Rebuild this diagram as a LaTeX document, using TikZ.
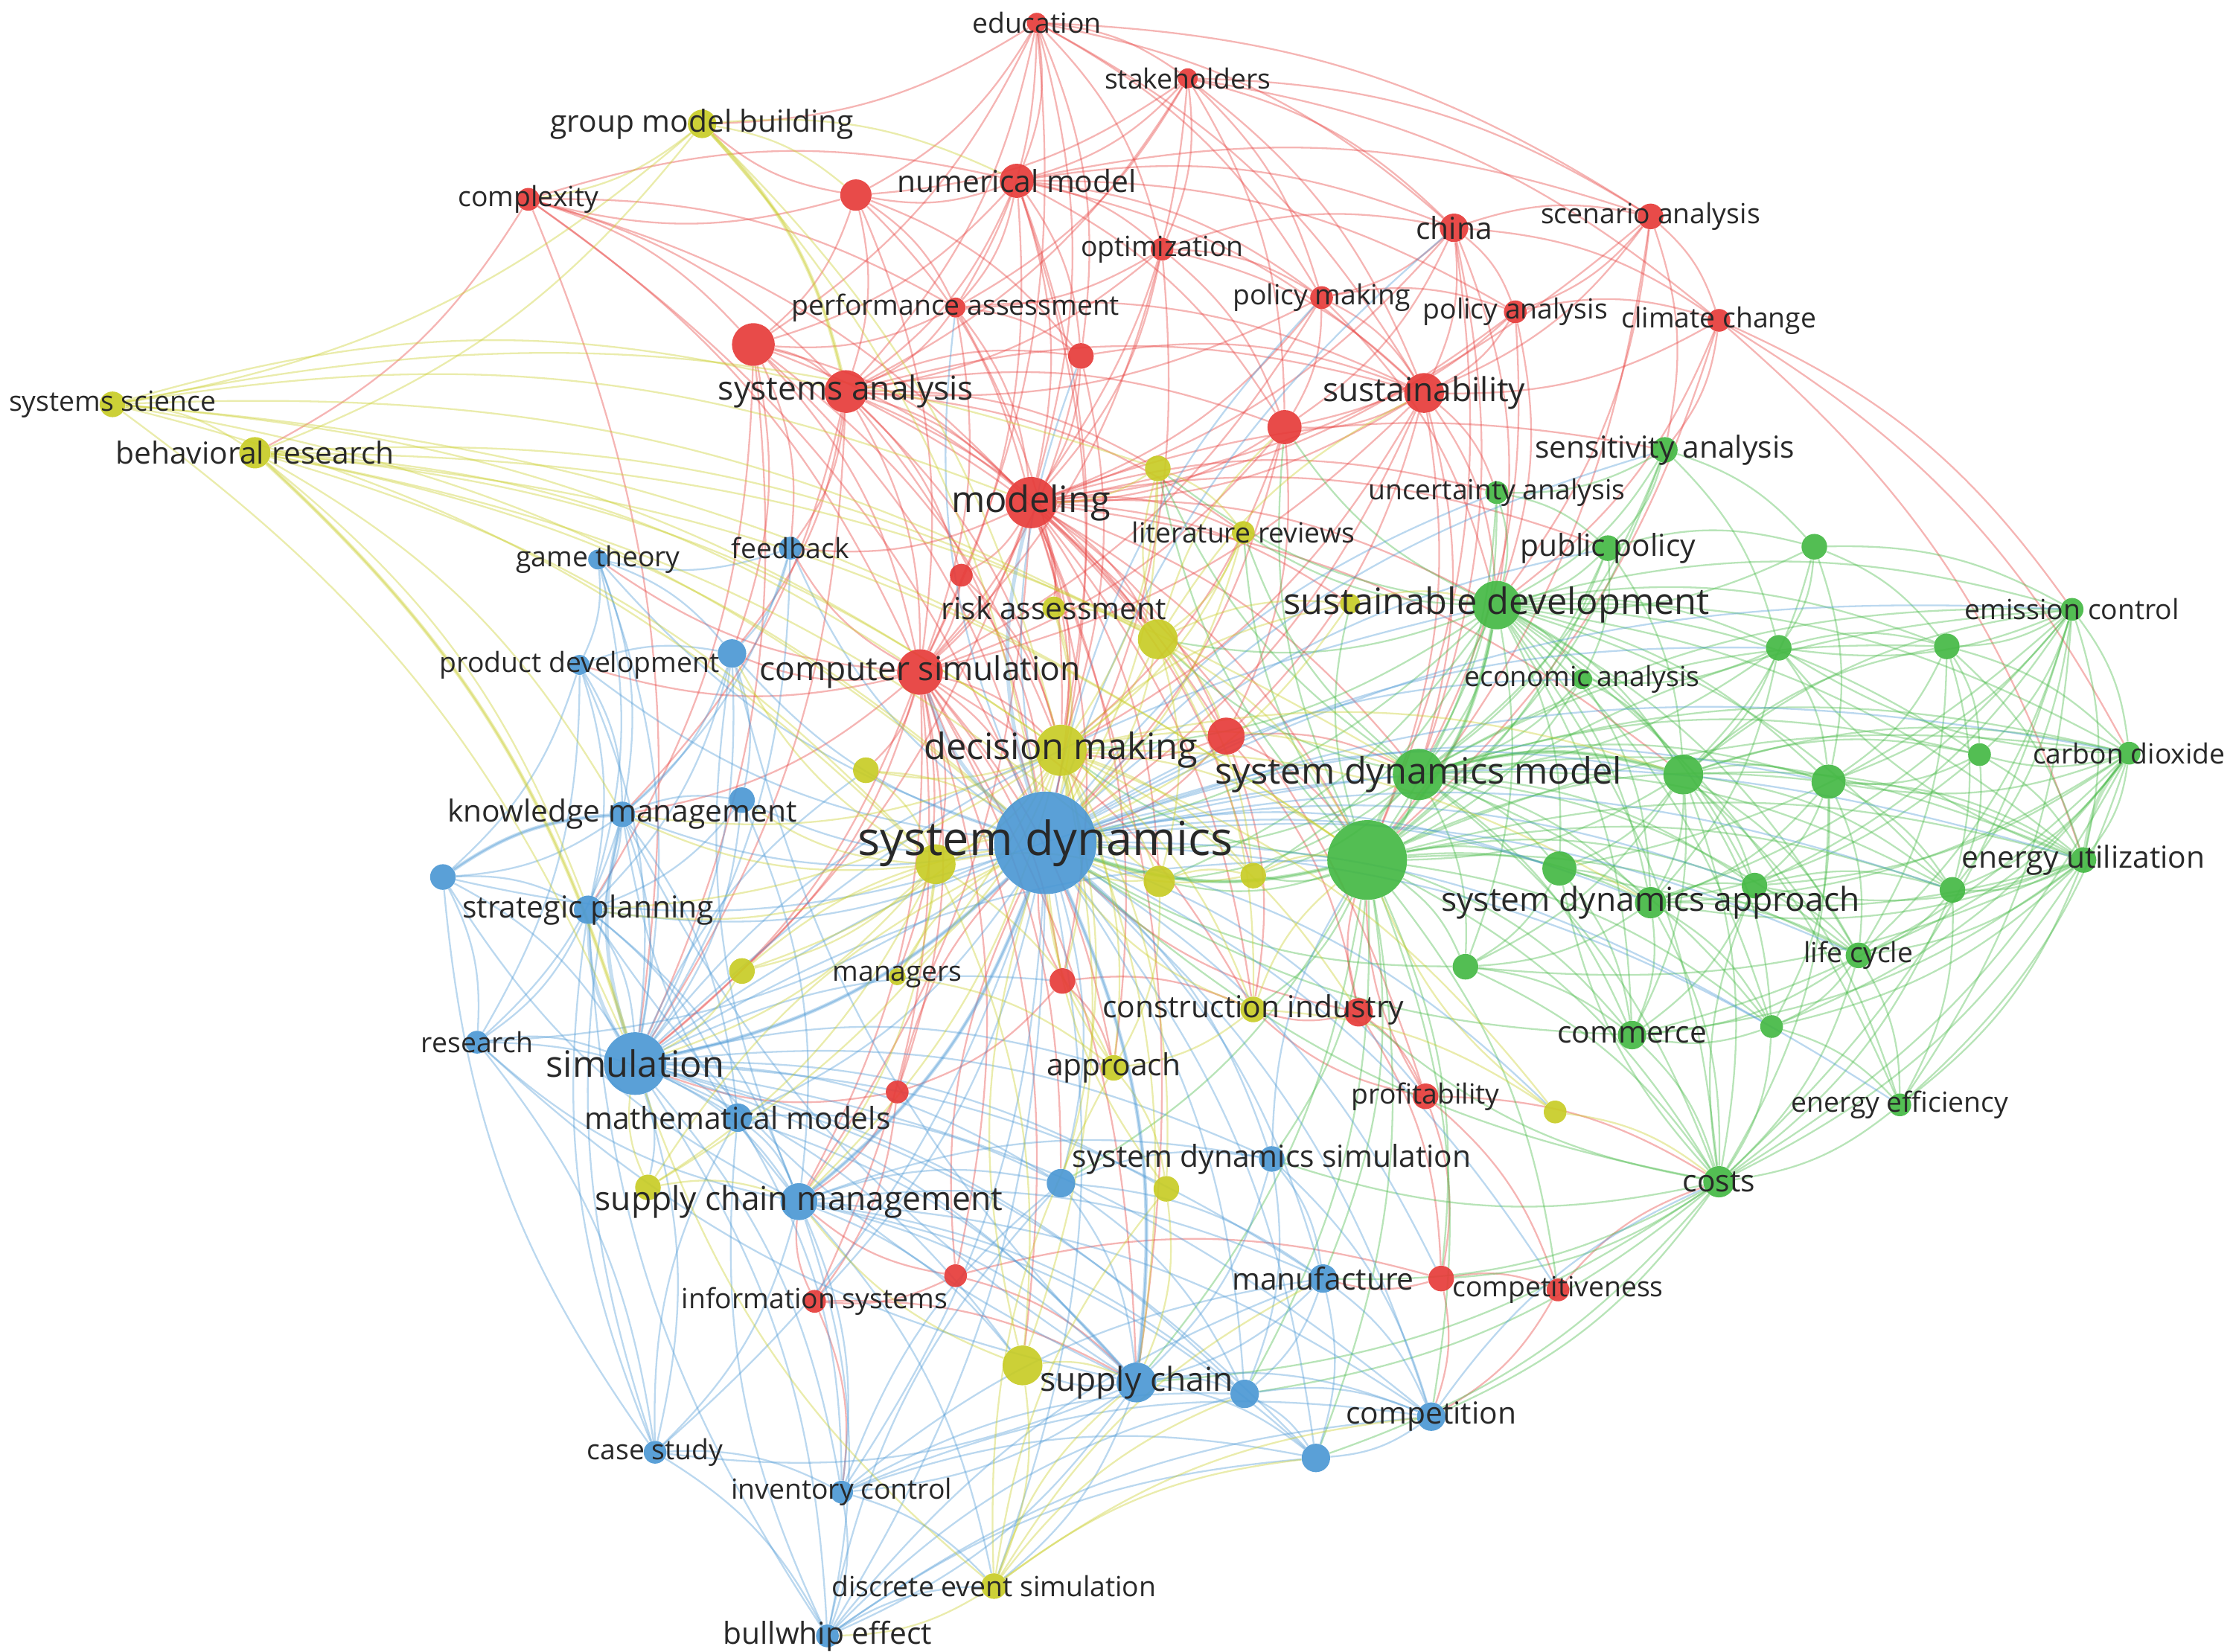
\documentclass[tikz,border=0pt]{standalone}
\usepackage{fontspec}
\setmainfont{Open Sans}
\pgfdeclarelayer{edges}
\pgfsetlayers{edges,main}
\definecolor{cR}{RGB}{230,60,58}
\definecolor{cG}{RGB}{68,184,68}
\definecolor{cB}{RGB}{76,152,212}
\definecolor{cY}{RGB}{200,204,38}
\definecolor{txt}{RGB}{40,40,40}

\begin{document}
\begin{tikzpicture}[x=1pt,y=-1pt,
  dot/.style={circle,inner sep=0pt,fill opacity=0.92},
  rdot/.style={dot,fill=cR}, gdot/.style={dot,fill=cG},
  bdot/.style={dot,fill=cB}, ydot/.style={dot,fill=cY},
  lab/.style={inner sep=0pt,text=txt},
  lS/.style={lab,font=\fontsize{19.5}{21}\selectfont},
  lM/.style={lab,font=\fontsize{21.3}{23}\selectfont},
  lL/.style={lab,font=\fontsize{23.2}{25}\selectfont},
  lXL/.style={lab,font=\fontsize{25.5}{27}\selectfont},
  lXXL/.style={lab,font=\fontsize{33}{35}\selectfont},
  edge/.style={line width=1.2pt,draw opacity=0.38,bend left=15},
  strong/.style={line width=2.6pt,draw opacity=0.32},
  eR/.style={edge,draw=cR}, eG/.style={edge,draw=cG},
  eB/.style={edge,draw=cB}, eY/.style={edge,draw=cY}]
  \useasboundingbox (0,0) rectangle (1568,1160);

  \node[rdot,minimum size=14pt] (educ) at (728,16) {};
  \node[rdot,minimum size=14pt] (stake) at (834,55) {};
  \node[rdot,minimum size=24pt] (nummod) at (714,127) {};
  \node[rdot,minimum size=22pt] (r1) at (601,137) {};
  \node[rdot,minimum size=16pt] (cplx) at (371,140) {};
  \node[rdot,minimum size=16pt] (optim) at (816,175) {};
  \node[rdot,minimum size=20pt] (china) at (1021,160) {};
  \node[rdot,minimum size=18pt] (scen) at (1159,152) {};
  \node[rdot,minimum size=14pt] (perf) at (671,216) {};
  \node[rdot,minimum size=16pt] (polmk) at (928,209) {};
  \node[rdot,minimum size=16pt] (polan) at (1064,219) {};
  \node[rdot,minimum size=16pt] (clim) at (1207,225) {};
  \node[rdot,minimum size=30pt] (r2) at (529,242) {};
  \node[rdot,minimum size=18pt] (r3) at (759,250) {};
  \node[rdot,minimum size=30pt] (sysan) at (594,275) {};
  \node[rdot,minimum size=28pt] (sust) at (1000,276) {};
  \node[rdot,minimum size=24pt] (r4) at (902,300) {};
  \node[rdot,minimum size=36pt] (mod) at (724,353) {};
  \node[rdot,minimum size=16pt] (r5) at (675,404) {};
  \node[rdot,minimum size=32pt] (compsim) at (646,472) {};
  \node[rdot,minimum size=26pt] (r6) at (861,517) {};
  \node[rdot,minimum size=18pt] (r7) at (746,689) {};
  \node[rdot,minimum size=20pt] (r8) at (954,711) {};
  \node[rdot,minimum size=16pt] (r9) at (630,767) {};
  \node[rdot,minimum size=18pt] (profit) at (1001,770) {};
  \node[rdot,minimum size=16pt] (r10) at (671,896) {};
  \node[rdot,minimum size=16pt] (infsys) at (572,914) {};
  \node[rdot,minimum size=18pt] (r11) at (1012,898) {};
  \node[rdot,minimum size=16pt] (compet) at (1094,906) {};

  \node[gdot,minimum size=18pt] (sens) at (1169,316) {};
  \node[gdot,minimum size=16pt] (unc) at (1051,346) {};
  \node[gdot,minimum size=18pt] (pubpol) at (1129,385) {};
  \node[gdot,minimum size=18pt] (g1) at (1274,384) {};
  \node[gdot,minimum size=34pt] (susdev) at (1051,425) {};
  \node[gdot,minimum size=16pt] (emis) at (1455,428) {};
  \node[gdot,minimum size=18pt] (g2) at (1249,455) {};
  \node[gdot,minimum size=18pt] (g3) at (1367,454) {};
  \node[gdot,minimum size=14pt] (econ) at (1111,477) {};
  \node[gdot,minimum size=16pt] (carb) at (1495,529) {};
  \node[gdot,minimum size=16pt] (g4) at (1390,530) {};
  \node[gdot,minimum size=36pt] (sdm) at (996,544) {};
  \node[gdot,minimum size=28pt] (g5) at (1182,544) {};
  \node[gdot,minimum size=24pt] (g6) at (1284,549) {};
  \node[gdot,minimum size=56pt] (g7) at (960,604) {};
  \node[gdot,minimum size=24pt] (g8) at (1095,610) {};
  \node[gdot,minimum size=18pt] (energy) at (1463,604) {};
  \node[gdot,minimum size=22pt] (sda) at (1159,634) {};
  \node[gdot,minimum size=18pt] (g9) at (1232,622) {};
  \node[gdot,minimum size=18pt] (g10) at (1371,625) {};
  \node[gdot,minimum size=18pt] (life) at (1305,671) {};
  \node[gdot,minimum size=18pt] (g11) at (1029,679) {};
  \node[gdot,minimum size=16pt] (g12) at (1244,721) {};
  \node[gdot,minimum size=20pt] (comm) at (1146,727) {};
  \node[gdot,minimum size=16pt] (effic) at (1334,776) {};
  \node[gdot,minimum size=22pt] (costs) at (1207,830) {};

  \node[bdot,minimum size=72pt] (sd) at (734,592) {};
  \node[bdot,minimum size=16pt] (feed) at (555,385) {};
  \node[bdot,minimum size=14pt] (game) at (420,393) {};
  \node[bdot,minimum size=14pt] (proddev) at (407,467) {};
  \node[bdot,minimum size=20pt] (b1) at (514,459) {};
  \node[bdot,minimum size=18pt] (km) at (437,572) {};
  \node[bdot,minimum size=18pt] (b2) at (521,562) {};
  \node[bdot,minimum size=18pt] (b3) at (311,616) {};
  \node[bdot,minimum size=20pt] (strat) at (413,639) {};
  \node[bdot,minimum size=16pt] (res) at (335,732) {};
  \node[bdot,minimum size=44pt] (sim) at (446,747) {};
  \node[bdot,minimum size=20pt] (mathm) at (518,785) {};
  \node[bdot,minimum size=26pt] (scm) at (561,844) {};
  \node[bdot,minimum size=20pt] (b4) at (745,831) {};
  \node[bdot,minimum size=18pt] (sdsim) at (893,814) {};
  \node[bdot,minimum size=20pt] (manuf) at (929,898) {};
  \node[bdot,minimum size=28pt] (sc) at (798,971) {};
  \node[bdot,minimum size=20pt] (b5) at (874,979) {};
  \node[bdot,minimum size=20pt] (compn) at (1005,995) {};
  \node[bdot,minimum size=20pt] (b6) at (924,1024) {};
  \node[bdot,minimum size=16pt] (case) at (460,1020) {};
  \node[bdot,minimum size=16pt] (inv) at (591,1048) {};
  \node[bdot,minimum size=16pt] (bull) at (581,1149) {};

  \node[ydot,minimum size=20pt] (gmb) at (493,87) {};
  \node[ydot,minimum size=18pt] (syssci) at (79,284) {};
  \node[ydot,minimum size=22pt] (behav) at (179,318) {};
  \node[ydot,minimum size=18pt] (y1) at (813,329) {};
  \node[ydot,minimum size=16pt] (litrev) at (873,374) {};
  \node[ydot,minimum size=16pt] (risk) at (740,427) {};
  \node[ydot,minimum size=14pt] (y2) at (948,424) {};
  \node[ydot,minimum size=28pt] (y3) at (813,449) {};
  \node[ydot,minimum size=36pt] (dm) at (745,527) {};
  \node[ydot,minimum size=18pt] (y4) at (608,541) {};
  \node[ydot,minimum size=28pt] (y5) at (657,607) {};
  \node[ydot,minimum size=22pt] (y6) at (814,619) {};
  \node[ydot,minimum size=18pt] (y7) at (880,615) {};
  \node[ydot,minimum size=18pt] (y8) at (521,682) {};
  \node[ydot,minimum size=12pt] (mgr) at (630,686) {};
  \node[ydot,minimum size=18pt] (constr) at (880,709) {};
  \node[ydot,minimum size=18pt] (appr) at (782,750) {};
  \node[ydot,minimum size=16pt] (y9) at (1092,781) {};
  \node[ydot,minimum size=18pt] (y10) at (455,834) {};
  \node[ydot,minimum size=18pt] (y11) at (819,835) {};
  \node[ydot,minimum size=28pt] (y12) at (718,959) {};
  \node[ydot,minimum size=18pt] (des) at (698,1114) {};

  \begin{pgfonlayer}{edges}
  \foreach \t in {stake,nummod,r1,sysan,mod,optim,china,r2,perf,polmk,sust,r3,compsim,gmb,scen} \draw[eR] (educ) to (\t);
  \foreach \t in {nummod,china,scen,optim,mod,sysan,perf,polmk,sust,r4,clim,r1} \draw[eR] (stake) to (\t);
  \foreach \t in {r1,optim,china,sysan,r2,mod,perf,polmk,sust,compsim,r3,scen,polan,r4,dm,sd} \draw[eR] (nummod) to (\t);
  \foreach \t in {sysan,r2,mod,perf,compsim,gmb,cplx,r3} \draw[eR] (r1) to (\t);
  \foreach \t in {r2,sysan,mod,compsim,nummod,behav,sim,sd,perf} \draw[eR] (cplx) to (\t);
  \foreach \t in {mod,sysan,sust,r4,polmk,china,compsim,perf,sd} \draw[eR] (optim) to (\t);
  \foreach \t in {scen,sust,polan,clim,polmk,r4,mod,sdm,susdev,g7} \draw[eR] (china) to (\t);
  \foreach \t in {clim,polan,sust,sens,susdev,g7,mod} \draw[eR] (scen) to (\t);
  \foreach \t in {mod,sysan,r2,compsim,r3,sust,dm} \draw[eR] (perf) to (\t);
  \foreach \t in {sust,mod,r4,polan,sysan,compsim,susdev} \draw[eR] (polmk) to (\t);
  \foreach \t in {sust,clim,r4,mod,susdev,sdm} \draw[eR] (polan) to (\t);
  \foreach \t in {sust,susdev,emis,sens,g7,carb,energy} \draw[eR] (clim) to (\t);
  \foreach \t in {sysan,mod,compsim,sim,sd,feed,b1,dm,y3,strat} \draw[eR] (r2) to (\t);
  \foreach \t in {mod,sust,compsim,dm} \draw[eR] (r3) to (\t);
  \foreach \t in {mod,compsim,r4,sust,sd,dm,sim,r5,feed,b1,km,y1,y3,r3,r6,litrev} \draw[eR] (sysan) to (\t);
  \foreach \t in {r4,mod,susdev,sdm,g7,dm,sd,compsim,r6,unc} \draw[eR] (sust) to (\t);
  \foreach \t in {mod,dm,sd,r6,compsim} \draw[eR] (r4) to (\t);
  \foreach \t in {compsim,r5,sd,dm,r6,sim,y3,risk,constr,r7,sdm,g7,litrev} \draw[eR] (mod) to (\t);
  \foreach \t in {susdev,y2,y6,y7,g5,appr,scm,sc,profit,sens,unc,pubpol,feed} \draw[eR] (mod) to (\t);
  \foreach \t in {compsim,sd,dm} \draw[eR] (r5) to (\t);
  \foreach \t in {sd,dm,sim,r7,r9,scm,km,y5,mgr,constr} \draw[eR] (compsim) to (\t);
  \foreach \t in {b1,feed,game,proddev,y4,y8,sc,infsys,r10,appr,y12,b4} \draw[eR] (compsim) to (\t);
  \foreach \t in {sd,dm,g7,sdm,constr,r8} \draw[eR] (r6) to (\t);
  \foreach \t in {sd,appr,r9,constr} \draw[eR] (r7) to (\t);
  \foreach \t in {constr,profit,g7,sd,r11} \draw[eR] (r8) to (\t);
  \foreach \t in {sd,scm,infsys,sim} \draw[eR] (r9) to (\t);
  \foreach \t in {r11,compet,constr,costs,g7} \draw[eR] (profit) to (\t);
  \foreach \t in {infsys,sc,scm,sd,r11} \draw[eR] (r10) to (\t);
  \foreach \t in {scm,sc,inv} \draw[eR] (infsys) to (\t);
  \foreach \t in {compet,manuf,compn} \draw[eR] (r11) to (\t);
  \foreach \t in {compn,costs} \draw[eR] (compet) to (\t);

  \foreach \t in {unc,pubpol,susdev,g1,sdm,g7,g2} \draw[eG] (sens) to (\t);
  \foreach \t in {susdev,pubpol,sdm,g7} \draw[eG] (unc) to (\t);
  \foreach \t in {susdev,g5,g1,econ,sdm,g7} \draw[eG] (pubpol) to (\t);
  \foreach \t in {susdev,g2,g3,g5,emis,g6} \draw[eG] (g1) to (\t);
  \foreach \t in {econ,g2,sdm,g5,g7,sda,g8,g6,energy,comm,costs,emis,sd,dm} \draw[eG] (susdev) to (\t);
  \foreach \t in {y3,y1,r4,g3,g4,g9,g10,g11,g12,life,carb,effic,y6,y7,litrev} \draw[eG] (susdev) to (\t);
  \foreach \t in {g3,carb,energy,g2,g6,g4,g10,life,g9,sda,g8,costs,effic} \draw[eG] (emis) to (\t);
  \foreach \t in {g5,g3,g6,sda,sdm,econ} \draw[eG] (g2) to (\t);
  \foreach \t in {g4,g6,energy,carb,life,g10} \draw[eG] (g3) to (\t);
  \foreach \t in {sdm,g5,g7,sda} \draw[eG] (econ) to (\t);
  \foreach \t in {g4,energy,g6,g10,life,effic,sda,g9,costs,g12,comm,g2} \draw[eG] (carb) to (\t);
  \foreach \t in {energy,g6,sda,g10} \draw[eG] (g4) to (\t);
  \foreach \t in {g7,g5,g8,sda,comm,sd,g11,costs} \draw[eG] (sdm) to (\t);
  \foreach \t in {y3,y1,y6,y7,g6,g9,energy,life,carb,emis,g10,g12,g3,g4,litrev} \draw[eG] (sdm) to (\t);
  \foreach \t in {g7,g6,g8,sda,g9,comm,life,costs,energy,carb,emis,g10,g3,g4,g12,g11,effic} \draw[eG] (g5) to (\t);
  \foreach \t in {sda,g9,g10,life,energy,g12,costs} \draw[eG] (g6) to (\t);
  \foreach \t in {sd,g8,sda,comm,g11,costs,dm,y6,y7,constr,sdsim,manuf,compn} \draw[eG] (g7) to (\t);
  \foreach \t in {y1,r4,litrev,y2,b4,sc,b5,b6,compet,r11,g6,g9,g12,life,energy,g10,carb,emis} \draw[eG] (g7) to (\t);
  \foreach \t in {sda,comm,g11} \draw[eG] (g8) to (\t);
  \foreach \t in {g10,life,g9,effic,costs,sda,g2,g8,g11,comm,g12} \draw[eG] (energy) to (\t);
  \foreach \t in {g9,life,comm,g12,costs,g11} \draw[eG] (sda) to (\t);
  \foreach \t in {life,g10,comm} \draw[eG] (g9) to (\t);
  \foreach \t in {life,effic,costs} \draw[eG] (g10) to (\t);
  \foreach \t in {effic,g12,costs,comm} \draw[eG] (life) to (\t);
  \foreach \t in {comm,costs,sd} \draw[eG] (g11) to (\t);
  \foreach \t in {costs,effic,comm} \draw[eG] (g12) to (\t);
  \foreach \t in {costs,sd} \draw[eG] (comm) to (\t);
  \foreach \t in {costs} \draw[eG] (effic) to (\t);
  \foreach \t in {compn,manuf,sd,g8,g9,sdsim,b5,b6,sc,r8,r11} \draw[eG] (costs) to (\t);

  \foreach \t in {sim,km,scm,sc,strat,b1,b2,feed,game,proddev,mathm,b4,sdsim,manuf,compn,b5,b6,case,inv,bull,res,b3} \draw[eB] (sd) to (\t);
  \foreach \t in {sda,g5,g8,g6,g9,life,energy,pubpol,unc,econ,sens,china,polmk,perf,r3,profit,infsys,compet,r11,des,y9,g2,emis,carb,effic,g12,g10} \draw[eB] (sd) to (\t);
  \foreach \t in {sim,game,b1,km} \draw[eB] (feed) to (\t);
  \foreach \t in {proddev,km,strat,sim,b1} \draw[eB] (game) to (\t);
  \foreach \t in {b1,km,strat,sim,res,b3} \draw[eB] (proddev) to (\t);
  \foreach \t in {km,b2,sim,strat} \draw[eB] (b1) to (\t);
  \foreach \t in {b2,strat,sim,b3,res,mathm} \draw[eB] (km) to (\t);
  \foreach \t in {strat,sim,scm} \draw[eB] (b2) to (\t);
  \foreach \t in {strat,res,sim,km} \draw[eB] (b3) to (\t);
  \foreach \t in {sim,res,mathm,scm} \draw[eB] (strat) to (\t);
  \foreach \t in {sim,mathm,case} \draw[eB] (res) to (\t);
  \foreach \t in {mathm,scm,case,inv,bull,sc,b4,sdsim,y10} \draw[eB] (sim) to (\t);
  \foreach \t in {dm,y4,y12,manuf,compn,b5,b6,g7,r7,appr,y11,sdm,susdev} \draw[eB] (sim) to (\t);
  \foreach \t in {scm,sc,inv,b4} \draw[eB] (mathm) to (\t);
  \foreach \t in {sc,inv,bull,case,b4,y12,des,b6,km,b1,res,sdsim,manuf,compn,b5,b3} \draw[eB] (scm) to (\t);
  \foreach \t in {sc,sdsim,manuf,b5} \draw[eB] (b4) to (\t);
  \foreach \t in {manuf,sc,b5,compn,g7} \draw[eB] (sdsim) to (\t);
  \foreach \t in {sc,b5,compn,b6} \draw[eB] (manuf) to (\t);
  \foreach \t in {b5,b6,compn,inv,bull,case,y12,des,km,strat,res,b1} \draw[eB] (sc) to (\t);
  \foreach \t in {compn,b6} \draw[eB] (b5) to (\t);
  \foreach \t in {b6,costs} \draw[eB] (compn) to (\t);
  \foreach \t in {inv,bull,strat,km,b3,mathm} \draw[eB] (case) to (\t);
  \foreach \t in {bull,des,b4,manuf,b5,compn,b6} \draw[eB] (inv) to (\t);
  \foreach \t in {des,b6,b4,manuf,compn,b5,mathm,strat} \draw[eB] (bull) to (\t);

  \foreach \t in {syssci,behav,sysan,r1,nummod,sd,dm,cplx} \draw[eY] (gmb) to (\t);
  \foreach \t in {behav,sd,sim,dm,sysan,y5,y3,g7,mod,y1} \draw[eY] (syssci) to (\t);
  \foreach \t in {sd,sim,dm,y5,strat,km,y3,compsim,g7,sdm,y6} \draw[eY] (behav) to (\t);
  \foreach \t in {mod,sd,dm,litrev} \draw[eY] (y1) to (\t);
  \foreach \t in {dm,sd,y3} \draw[eY] (litrev) to (\t);
  \foreach \t in {dm,sd,y3} \draw[eY] (risk) to (\t);
  \foreach \t in {susdev,sd} \draw[eY] (y2) to (\t);
  \foreach \t in {dm,sd,y6,g7,sust,y1,y2,y7,constr,r4,r6} \draw[eY] (y3) to (\t);
  \foreach \t in {sd,y5,y6,y7,y4,mgr,appr,constr,g7,sdm} \draw[eY] (dm) to (\t);
  \foreach \t in {y8,y10,y12,y11,y9,y2,r7,r8,g5,sda,b4,scm,sc,km,strat} \draw[eY] (dm) to (\t);
  \foreach \t in {sd,y5} \draw[eY] (y4) to (\t);
  \foreach \t in {sd,sim,y8,mgr,y6,y12,appr,km,strat,b2,b1,y10,scm} \draw[eY] (y5) to (\t);
  \foreach \t in {sd,y7,appr} \draw[eY] (y6) to (\t);
  \foreach \t in {sd,g7} \draw[eY] (y7) to (\t);
  \foreach \t in {sim,sd} \draw[eY] (y8) to (\t);
  \foreach \t in {sd,appr} \draw[eY] (mgr) to (\t);
  \foreach \t in {appr,sd,g7,y9} \draw[eY] (constr) to (\t);
  \foreach \t in {sd,y11} \draw[eY] (appr) to (\t);
  \foreach \t in {costs,g7} \draw[eY] (y9) to (\t);
  \foreach \t in {scm,sim,sd} \draw[eY] (y10) to (\t);
  \foreach \t in {sd,sc} \draw[eY] (y11) to (\t);
  \foreach \t in {sc,des,sd,scm} \draw[eY] (y12) to (\t);
  \foreach \t in {sim,sc,bull,b5,manuf,compn,b6,y11,appr} \draw[eY] (des) to (\t);

  \foreach \a/\b in {sd/sim,sd/scm,sd/sc,sim/km,sim/strat,b3/km,sd/compsim,sd/mod} \draw[eB,strong] (\a) to (\b);
  \foreach \a/\b in {g7/sd,g7/sdm,susdev/g7,sdm/g5,energy/carb} \draw[eG,strong] (\a) to (\b);
  \foreach \a/\b in {dm/sd,behav/sim,gmb/sysan} \draw[eY,strong] (\a) to (\b);
  \end{pgfonlayer}

  \node[lS] (educ-l) at (educ) {education};
  \node[lS] (stake-l) at (stake) {stakeholders};
  \node[lM] (nummod-l) at (nummod) {numerical model};
  \node[lS] (cplx-l) at (cplx) {complexity};
  \node[lS] (optim-l) at (optim) {optimization};
  \node[lM] (china-l) at (china) {china};
  \node[lS] (scen-l) at (scen) {scenario analysis};
  \node[lS] (perf-l) at (perf) {performance assessment};
  \node[lS] (polmk-l) at (polmk) {policy making};
  \node[lS] (polan-l) at (polan) {policy analysis};
  \node[lS] (clim-l) at (clim) {climate change};
  \node[lL] (sysan-l) at (sysan) {systems analysis};
  \node[lL] (sust-l) at (sust) {sustainability};
  \node[lXL] (mod-l) at (mod) {modeling};
  \node[lL] (compsim-l) at (compsim) {computer simulation};
  \node[lS] (profit-l) at (profit) {profitability};
  \node[lS] (infsys-l) at (infsys) {information systems};
  \node[lS] (compet-l) at (compet) {competitiveness};

  \node[lM] (sens-l) at (sens) {sensitivity analysis};
  \node[lS] (unc-l) at (unc) {uncertainty analysis};
  \node[lM] (pubpol-l) at (pubpol) {public policy};
  \node[lXL] (susdev-l) at (susdev) {sustainable development};
  \node[lS] (emis-l) at (emis) {emission control};
  \node[lS] (econ-l) at (econ) {economic analysis};
  \node[lS] (carb-l) at (carb) {carbon dioxide};
  \node[lXL] (sdm-l) at (sdm) {system dynamics model};
  \node[lM] (energy-l) at (energy) {energy utilization};
  \node[lL] (sda-l) at (sda) {system dynamics approach};
  \node[lS] (life-l) at (life) {life cycle};
  \node[lM] (comm-l) at (comm) {commerce};
  \node[lS] (effic-l) at (effic) {energy efficiency};
  \node[lM] (costs-l) at (costs) {costs};

  \node[lXXL] (sd-l) at (sd) {system dynamics};
  \node[lS] (feed-l) at (feed) {feedback};
  \node[lS] (game-l) at (game) {game theory};
  \node[lS] (proddev-l) at (proddev) {product development};
  \node[lM] (km-l) at (km) {knowledge management};
  \node[lM] (strat-l) at (strat) {strategic planning};
  \node[lS] (res-l) at (res) {research};
  \node[lXL] (sim-l) at (sim) {simulation};
  \node[lM] (mathm-l) at (mathm) {mathematical models};
  \node[lL] (scm-l) at (scm) {supply chain management};
  \node[lM] (sdsim-l) at (sdsim) {system dynamics simulation};
  \node[lM] (manuf-l) at (manuf) {manufacture};
  \node[lL] (sc-l) at (sc) {supply chain};
  \node[lM] (compn-l) at (compn) {competition};
  \node[lS] (case-l) at (case) {case study};
  \node[lS] (inv-l) at (inv) {inventory control};
  \node[lM] (bull-l) at (bull) {bullwhip effect};

  \node[lM] (gmb-l) at (gmb) {group model building};
  \node[lS] (syssci-l) at (syssci) {systems science};
  \node[lM] (behav-l) at (behav) {behavioral research};
  \node[lS] (litrev-l) at (litrev) {literature reviews};
  \node[lM] (risk-l) at (risk) {risk assessment};
  \node[lXL] (dm-l) at (dm) {decision making};
  \node[lS] (mgr-l) at (mgr) {managers};
  \node[lM] (constr-l) at (constr) {construction industry};
  \node[lM] (appr-l) at (appr) {approach};
  \node[lS] (des-l) at (des) {discrete event simulation};
\end{tikzpicture}
\end{document}
